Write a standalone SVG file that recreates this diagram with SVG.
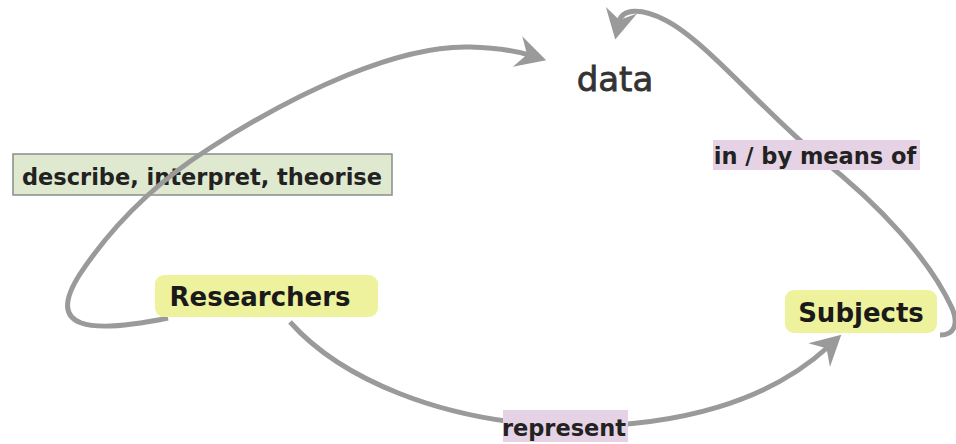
<svg xmlns="http://www.w3.org/2000/svg" width="956" height="444" viewBox="0 0 956 444">
<style>
.lbl{font-family:"DejaVu Sans","Liberation Sans",sans-serif;font-weight:bold;fill:#222;}
.node{font-family:"DejaVu Sans","Liberation Sans",sans-serif;font-weight:bold;fill:#1a1a1a;font-size:26px;}
.conn{fill:none;stroke:#9a9a9a;stroke-width:5;marker-end:url(#ah);}
.ybox{fill:#eef29c;}
.pbox{fill:#e5d3e5;}
</style>
<defs>
<marker id="ah" markerUnits="userSpaceOnUse" viewBox="-20 -18 40 36" markerWidth="40" markerHeight="36" refX="0" refY="0" orient="auto">
<path d="M18,0 L-12,-16 L-2,0 L-12,16 Z" fill="#9a9a9a"/>
</marker>
</defs>
<rect width="956" height="444" fill="#fff"/>
<g id="describe">
<rect x="13" y="154" width="379" height="41" fill="#dfe9cf" stroke="#8c8c8c" stroke-width="1.5"/>
<text class="lbl" x="202" y="185" font-size="22.5" text-anchor="middle">describe, interpret, theorise</text>
</g>
<g id="connectors">
<path class="conn" d="M168,318 C90,334 44,330 80,274 C108,232 150,186 210,148 C300,90 400,45 470,47 C500,48 516,51 529,55"/>
<path class="conn" d="M940,335 C956,335 958,322 952,308 C930,260 880,205 820,158 C760,108 705,40 665,20 C642,8 622,8 619,22"/>
<path class="conn" d="M290,322 C340,378 440,422 565,426 C680,428 770,400 828,347"/>
</g>
<g id="data">
<text x="615" y="91" font-family="DejaVu Sans,Liberation Sans,sans-serif" font-size="34" fill="#333" stroke="#333" stroke-width="0.8" text-anchor="middle">data</text>
</g>
<g id="researchers">
<rect class="ybox" x="155" y="275" width="223" height="42" rx="9"/>
<text class="node" x="260" y="306" text-anchor="middle">Researchers</text>
</g>
<g id="subjects">
<rect class="ybox" x="785" y="290" width="152" height="43" rx="9"/>
<text class="node" x="861" y="322" text-anchor="middle">Subjects</text>
</g>
<g id="inbymeans">
<rect class="pbox" x="713" y="140" width="207" height="30"/>
<text class="lbl" x="815" y="164" font-size="22.5" text-anchor="middle">in / by means of</text>
</g>
<g id="represent">
<rect class="pbox" x="503" y="410" width="125" height="32"/>
<text class="lbl" x="564" y="436" font-size="22.5" text-anchor="middle">represent</text>
</g>
</svg>
